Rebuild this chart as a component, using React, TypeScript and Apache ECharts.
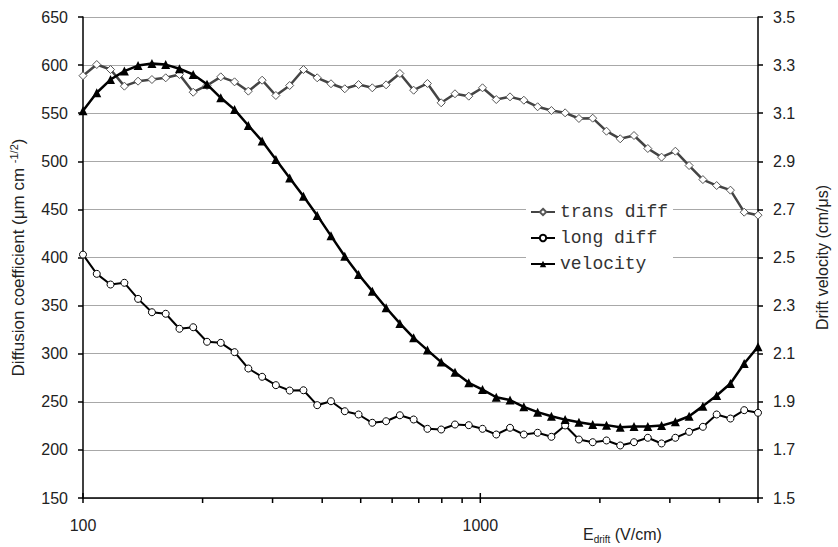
import React, { useEffect, useRef } from "react";
import * as echarts from "echarts";

// Drift field (V/cm)
const eField = [
  100, 108.3, 117.3, 127.1, 137.6, 149.1, 161.5, 174.9, 189.4, 205.2,
  222.2, 240.7, 260.7, 282.4, 305.8, 331.3, 358.8, 388.6, 420.9, 455.9,
  493.8, 534.8, 579.3, 627.4, 679.6, 736.1, 797.2, 863.5, 935.3, 1013,
  1097, 1188, 1287, 1394, 1510, 1635, 1771, 1918, 2078, 2250,
  2437, 2640, 2859, 3097, 3354, 3633, 3935, 4262, 4616, 5000,
];

const transDiff = [
  589, 600.6, 595.4, 578.1, 583.3, 585, 586.8, 590.2, 571.8, 578.8,
  587.8, 582.6, 572.9, 584.3, 568.4, 578.8, 595.4, 586.8, 580.6, 575.4,
  579.8, 576.4, 579.5, 591.3, 573.9, 580.9, 560.8, 570.2, 567.7, 576.4,
  564.2, 567, 563.5, 556.7, 552.8, 550.4, 544.5, 544.8, 531.3, 523.4,
  526.8, 513.3, 504.3, 510.5, 495.6, 481, 474.8, 470, 447.1, 444,
];

const longDiff = [
  403, 383, 371.9, 373.7, 357, 343.1, 341.5, 325.9, 327.5, 312.4,
  311.3, 301.6, 284.6, 276, 267.3, 261.7, 262, 246.5, 250.6, 240.2,
  236.8, 228.2, 229.8, 236, 231.6, 221.9, 221.2, 226.4, 225.7, 221.9,
  216, 223, 216, 217.8, 213.6, 225.4, 210.8, 208, 209.8, 204.6,
  208, 212.6, 206.7, 212.6, 218.8, 224, 236.8, 232.6, 241.3, 238.6,
];

const velocity = [
  3.11, 3.185, 3.24, 3.275, 3.298, 3.307, 3.302, 3.285, 3.261, 3.22,
  3.164, 3.115, 3.049, 2.984, 2.907, 2.831, 2.755, 2.675, 2.59, 2.505,
  2.429, 2.36, 2.291, 2.226, 2.166, 2.115, 2.065, 2.023, 1.979, 1.951,
  1.919, 1.907, 1.879, 1.857, 1.84, 1.826, 1.815, 1.806, 1.803, 1.794,
  1.797, 1.797, 1.801, 1.817, 1.84, 1.882, 1.926, 1.976, 2.059, 2.129,
];

const xTickValues = [100, 200, 300, 400, 500, 600, 700, 800, 900, 1000, 2000, 3000, 4000, 5000];
const xMajorTicks = [100, 1000];
const seriesNames = ["trans diff", "long diff", "velocity"];

export default function App() {
  const ref = useRef<HTMLDivElement>(null);

  useEffect(() => {
    document.body.style.margin = "0";
    const chart = echarts.init(ref.current!, null, { renderer: "svg" });
    const font = "'Liberation Sans', Arial, sans-serif";
    const mono = "'Liberation Mono', 'Courier New', monospace";
    const pairs = (ys: number[]) => eField.map((x, i) => [x, ys[i]]);

    chart.setOption({
      animation: false,
      backgroundColor: "#ffffff",
      grid: { left: 83, right: 70, top: 17, bottom: 49 },
      legend: {
        data: seriesNames,
        orient: "vertical",
        left: 526,
        top: 199,
        itemWidth: 24,
        itemHeight: 8,
        itemGap: 8,
        backgroundColor: "#ffffff",
        padding: [4, 5, 4, 4],
        textStyle: { fontFamily: mono, fontSize: 18, color: "#333" },
      },
      xAxis: {
        type: "log",
        logBase: 10,
        min: 100,
        max: 5000,
        axisLine: { lineStyle: { color: "#000", width: 1.5 } },
        axisTick: { show: false },
        splitLine: { show: false },
        minorTick: { show: false },
        axisLabel: {
          fontFamily: font,
          fontSize: 16,
          color: "#222",
          margin: 19,
          showMaxLabel: false,
          formatter: (v: number) => {
            const r = Math.round(v);
            return r === 100 || r === 1000 ? String(r) : "";
          },
        },
      },
      yAxis: [
        {
          type: "value",
          min: 150,
          max: 650,
          interval: 50,
          position: "left",
          name: "Diffusion coefficient (μm cm {sup|-1/2})",
          nameLocation: "middle",
          nameRotate: 90,
          nameGap: 55,
          nameTextStyle: {
            fontFamily: font,
            fontSize: 17,
            color: "#222",
            lineHeight: 20,
            rich: { sup: { fontFamily: font, fontSize: 11, lineHeight: 10, verticalAlign: "top", color: "#222" } },
          },
          axisLine: { show: true, lineStyle: { color: "#000", width: 1.5 } },
          axisTick: { show: true, length: 5, lineStyle: { color: "#000", width: 1.5 } },
          splitLine: { show: true, lineStyle: { color: "#a8a8a8", width: 1 } },
          axisLabel: { fontFamily: font, fontSize: 16, color: "#222", margin: 15 },
        },
        {
          type: "value",
          min: 1.5,
          max: 3.5,
          interval: 0.2,
          position: "right",
          name: "Drift velocity (cm/μs)",
          nameLocation: "middle",
          nameRotate: 90,
          nameGap: 56,
          nameTextStyle: { fontFamily: font, fontSize: 16, color: "#222" },
          axisLine: { show: true, lineStyle: { color: "#000", width: 1.5 } },
          axisTick: { show: true, length: 5, lineStyle: { color: "#000", width: 1.5 } },
          splitLine: { show: false },
          axisLabel: {
            fontFamily: font,
            fontSize: 16,
            color: "#222",
            margin: 15,
            formatter: (v: number) => v.toFixed(1),
          },
        },
      ],
      graphic: [
        {
          type: "text",
          left: 583,
          top: 526,
          style: {
            text: "{a|E}{b|drift}{a| (V/cm)}",
            rich: {
              a: { fontFamily: font, fontSize: 16, lineHeight: 20, fill: "#222" },
              b: { fontFamily: font, fontSize: 10, lineHeight: 12, verticalAlign: "bottom", fill: "#222" },
            },
          },
        },
      ],
      series: [
        {
          name: "trans diff",
          type: "line",
          data: pairs(transDiff),
          yAxisIndex: 0,
          symbol: "diamond",
          symbolSize: 8,
          showSymbol: true,
          lineStyle: { color: "#444", width: 2.5 },
          itemStyle: { color: "#fff", borderColor: "#555", borderWidth: 1 },
          z: 2,
        },
        {
          name: "long diff",
          type: "line",
          data: pairs(longDiff),
          yAxisIndex: 0,
          symbol: "circle",
          symbolSize: 7,
          showSymbol: true,
          lineStyle: { color: "#000", width: 2 },
          itemStyle: { color: "#fff", borderColor: "#000", borderWidth: 1 },
          z: 3,
        },
        {
          name: "velocity",
          type: "line",
          data: pairs(velocity),
          yAxisIndex: 1,
          symbol: "triangle",
          symbolSize: 9,
          showSymbol: true,
          lineStyle: { color: "#000", width: 2.5 },
          itemStyle: { color: "#000" },
          z: 4,
        },
        {
          name: "xticks",
          type: "custom",
          xAxisIndex: 0,
          yAxisIndex: 0,
          clip: false,
          silent: true,
          z: 5,
          data: xTickValues.map((v) => [v, 150]),
          renderItem: (params: any, api: any) => {
            const v = api.value(0);
            const p = api.coord([v, 150]);
            const major = xMajorTicks.indexOf(v) >= 0;
            return {
              type: "line",
              shape: { x1: p[0], y1: p[1] - (major ? 5 : 0), x2: p[0], y2: p[1] + 5 },
              style: { stroke: "#000", lineWidth: 1.5 },
            };
          },
        },
      ],
    });
    return () => chart.dispose();
  }, []);

  return <div ref={ref} style={{ width: 838, height: 547 }} />;
}
